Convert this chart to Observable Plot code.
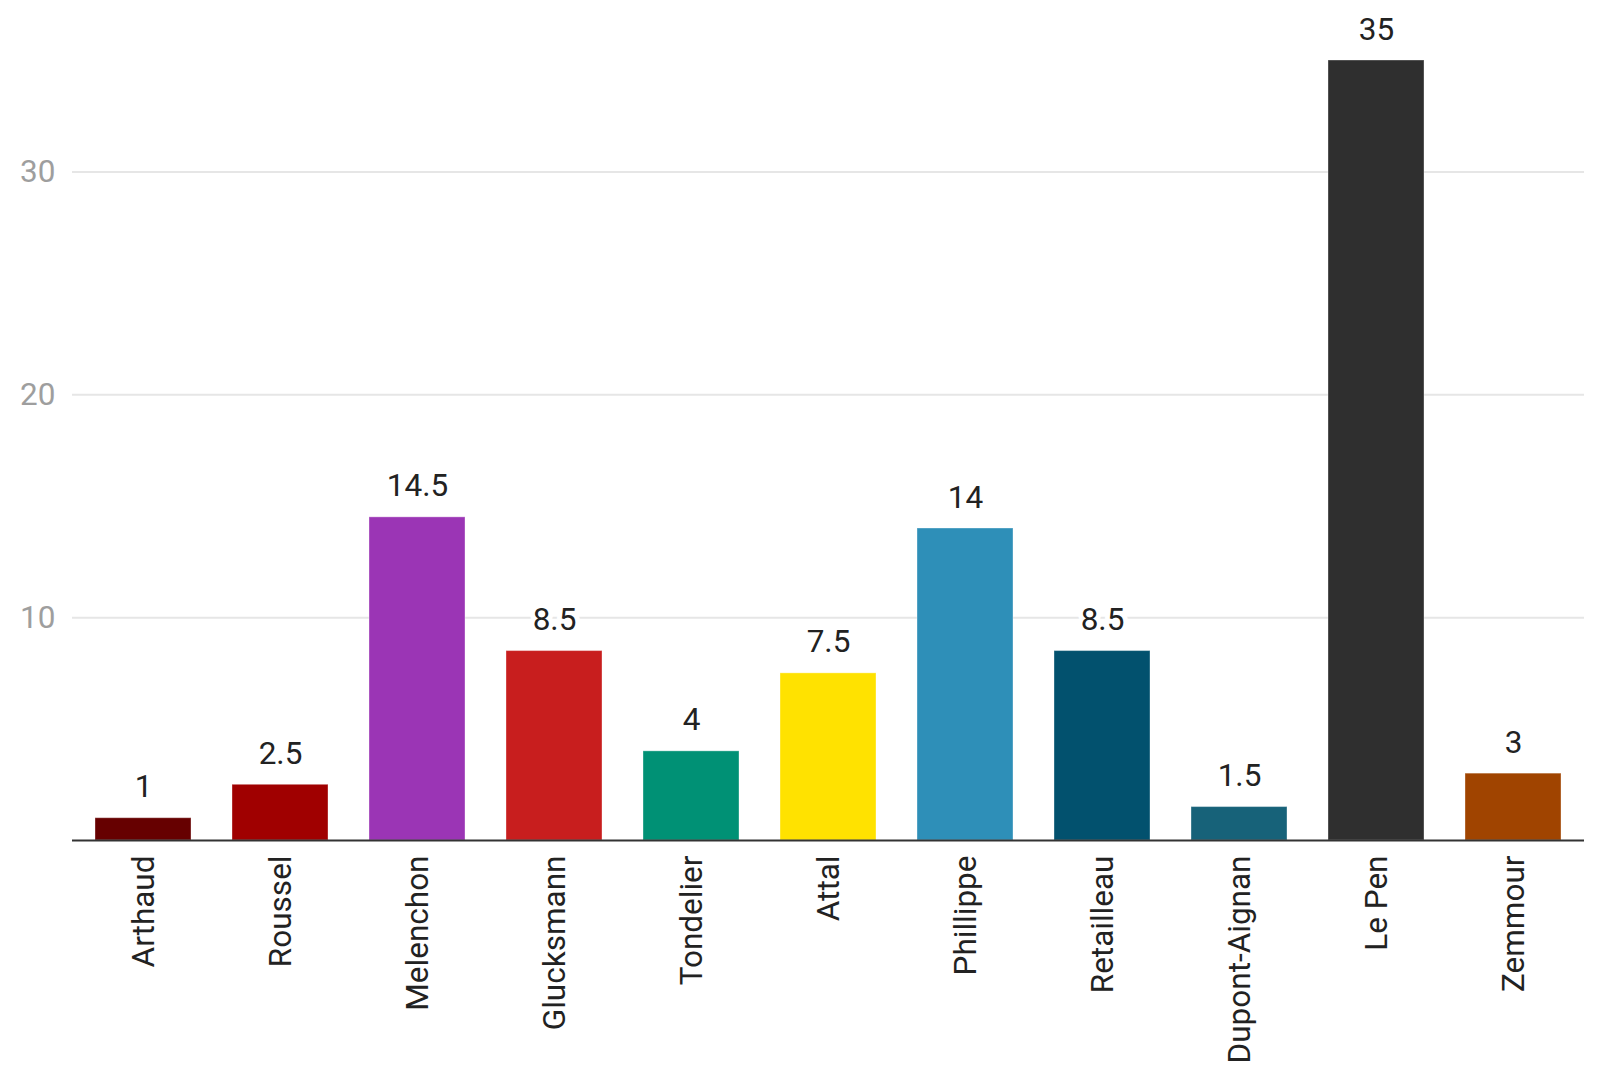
<!DOCTYPE html>
<html>
<head>
<meta charset="utf-8">
<script src="https://cdn.jsdelivr.net/npm/d3@7"></script>
<script src="https://cdn.jsdelivr.net/npm/@observablehq/plot@0.6"></script>
<style>
  html, body { margin: 0; padding: 0; background: #fff; }
  #chart { width: 1598px; height: 1080px; }
</style>
</head>
<body>
<div id="chart"></div>
<script>
const candidates = ["Arthaud", "Roussel", "Melenchon", "Glucksmann", "Tondelier", "Attal", "Phillippe", "Retailleau", "Dupont-Aignan", "Le Pen", "Zemmour"];
const values = [1, 2.5, 14.5, 8.5, 4, 7.5, 14, 8.5, 1.5, 35, 3];
const colors = ["#660000", "#a00000", "#9b35b5", "#c81e1e", "#009175", "#ffe200", "#2e8fb8", "#02516e", "#176279", "#2f2f2f", "#a04400"];
const yTicks = [10, 20, 30];

const data = candidates.map((name, i) => ({name, value: values[i], color: colors[i]}));

const chart = Plot.plot({
  width: 1598,
  height: 1080,
  marginLeft: 72,
  marginRight: 14,
  marginTop: 60,
  marginBottom: 240,
  style: {fontFamily: "Roboto, sans-serif", background: "#fff"},
  x: {domain: candidates, paddingInner: 0.3, paddingOuter: 0.15, label: null},
  y: {domain: [0, 35], label: null},
  marks: [
    Plot.gridY(yTicks, {stroke: "#e6e6e6", strokeOpacity: 1, strokeWidth: 2}),
    Plot.axisY(yTicks, {tickSize: 0, tickPadding: 17, fontSize: 31.5, fill: "#9e9e9e", label: null}),
    Plot.barY(data, {x: "name", y: "value", fill: "color", stroke: "#ffffff", strokeOpacity: 0.35, strokeWidth: 1}),
    Plot.ruleY([0], {stroke: "#333", strokeWidth: 2}),
    Plot.axisX({tickRotate: -90, tickSize: 0, tickPadding: 15, fontSize: 31.5, fill: "#222", label: null}),
    Plot.text(data, {x: "name", y: "value", text: d => String(d.value), lineAnchor: "bottom", dy: -21, fontSize: 31.5, fill: "#222", stroke: "#fff", strokeWidth: 10, paintOrder: "stroke"})
  ]
});
document.getElementById("chart").appendChild(chart);
</script>
</body>
</html>
